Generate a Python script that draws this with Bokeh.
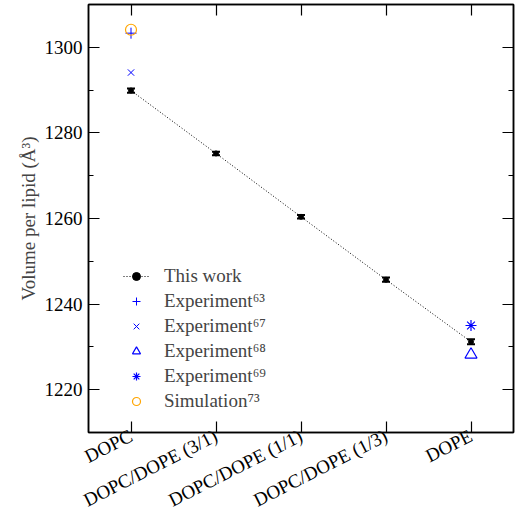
from bokeh.plotting import figure
from bokeh.models import (FactorRange, Range1d, LinearAxis, CategoricalAxis, Whisker, TeeHead,
                          ColumnDataSource, Legend, LegendItem, SingleIntervalTicker,
                          CustomLabelingPolicy)
from bokeh.embed import file_html
from bokeh.resources import INLINE

categories = ["DOPC", "DOPC/DOPE (3/1)", "DOPC/DOPE (1/1)", "DOPC/DOPE (1/3)", "DOPE"]
this_work = [1289.9, 1275.2, 1260.4, 1245.7, 1231.2]
this_err = [0.5, 0.4, 0.4, 0.5, 0.6]
exp63_x, exp63_y = ["DOPC"], [1303.3]
exp67_x, exp67_y = ["DOPC"], [1294.1]
exp68_x, exp68_y = ["DOPE"], [1228.2]
exp69_x, exp69_y = ["DOPE"], [1235.0]
sim73_x, sim73_y = ["DOPC"], [1304.1]
y_ticks_interval = 20

FONT = "Liberation Serif"
FS = "19px"
BLUE = "#0000ff"
ORANGE = "#ffa500"

p = figure(x_range=FactorRange(*categories), y_range=Range1d(1210, 1310),
           width=518, height=522, output_backend="svg", toolbar_location=None,
           min_border_left=88, min_border_right=3, min_border_top=4, min_border_bottom=90)
p.xgrid.visible = False
p.ygrid.visible = False
p.outline_line_color = "black"
p.outline_line_width = 1.5
p.background_fill_color = "white"
p.border_fill_color = "white"

src = ColumnDataSource(dict(x=categories, y=this_work,
                            upper=[v + e for v, e in zip(this_work, this_err)],
                            lower=[v - e for v, e in zip(this_work, this_err)]))

line_r = p.line("x", "y", source=src, line_dash="1 2", line_color="black", line_width=1)
dot_r = p.scatter("x", "y", source=src, size=5, color="black")
p.add_layout(Whisker(base="x", upper="upper", lower="lower", source=src, line_color="black",
                     line_width=2,
                     upper_head=TeeHead(size=8, line_color="black", line_width=2),
                     lower_head=TeeHead(size=8, line_color="black", line_width=2)))

r63 = p.scatter(exp63_x, exp63_y, marker="cross", size=11, color=BLUE, line_width=1)
r67 = p.scatter(exp67_x, exp67_y, marker="x", size=9, color=BLUE, line_width=1)
r68 = p.scatter(exp68_x, exp68_y, marker="triangle", size=12, line_color=BLUE,
                fill_color=None, line_width=1.2)
r69 = p.scatter(exp69_x, exp69_y, marker="asterisk", size=11, color=BLUE, line_width=1.2)
r73 = p.scatter(sim73_x, sim73_y, marker="circle", size=11, line_color=ORANGE,
                fill_color=None, line_width=1.2)

# axes styling
for ax in [p.xaxis[0], p.yaxis[0]]:
    ax.axis_line_width = 1.5
    ax.major_tick_in = 11
    ax.major_tick_out = 0
    ax.minor_tick_in = 5
    ax.minor_tick_out = 0
    ax.major_tick_line_width = 1.2
    ax.minor_tick_line_width = 1.2
    ax.major_label_text_font = FONT
    ax.major_label_text_font_size = FS
    ax.major_label_text_color = "black"

p.yaxis[0].ticker = SingleIntervalTicker(interval=y_ticks_interval, num_minor_ticks=2)
p.yaxis[0].axis_label = "Volume per lipid (Å³)"
p.yaxis[0].axis_label_text_font = FONT
p.yaxis[0].axis_label_text_font_size = "19px"
p.yaxis[0].axis_label_text_font_style = "normal"
p.yaxis[0].axis_label_standoff = 3
p.yaxis[0].major_label_standoff = 6
p.xaxis[0].major_label_orientation = 0.47
p.xaxis[0].major_label_standoff = 2

hide_code = """
try {
  const on = Array.from(indices.ones());
  for (const i of on) indices.unset(i);
} catch (e) {}
return indices
"""

right = LinearAxis(ticker=SingleIntervalTicker(interval=y_ticks_interval, num_minor_ticks=2),
                   major_label_text_font_size="1px", major_label_standoff=0,
                   major_label_policy=CustomLabelingPolicy(code=hide_code),
                   major_tick_in=11, major_tick_out=0, minor_tick_in=5, minor_tick_out=0,
                   axis_line_width=1.5, major_tick_line_width=1.2, minor_tick_line_width=1.2)
p.add_layout(right, "right")
top = CategoricalAxis(major_label_text_font_size="1px", major_label_standoff=0,
                      major_label_policy=CustomLabelingPolicy(code=hide_code),
                      major_tick_in=11, major_tick_out=0, axis_line_width=1.5,
                      major_tick_line_width=1.2)
p.add_layout(top, "above")

legend = Legend(items=[
    LegendItem(label="This work", renderers=[line_r, dot_r]),
    LegendItem(label="Experiment⁶³", renderers=[r63]),
    LegendItem(label="Experiment⁶⁷", renderers=[r67]),
    LegendItem(label="Experiment⁶⁸", renderers=[r68]),
    LegendItem(label="Experiment⁶⁹", renderers=[r69]),
    LegendItem(label="Simulation⁷³", renderers=[r73]),
], location=(35, 20), border_line_color=None, background_fill_alpha=0,
    label_text_font=FONT, label_text_font_size=FS, glyph_width=26, glyph_height=20,
    label_height=20, spacing=3, padding=0, margin=0, label_standoff=15)
p.add_layout(legend)

open("out.html", "w").write(file_html(p, INLINE))
